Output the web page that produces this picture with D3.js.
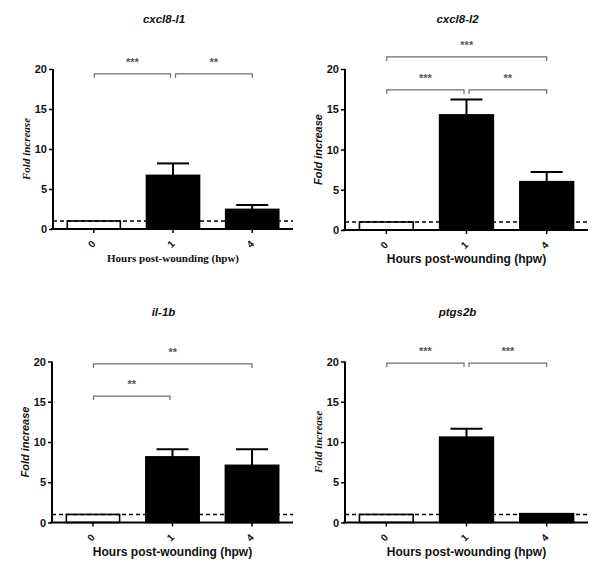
<!DOCTYPE html>
<html>
<head>
<meta charset="utf-8">
<script src="https://cdn.jsdelivr.net/npm/d3@7"></script>
<style>
  html, body { margin: 0; padding: 0; background: #fff; }
  svg { display: block; }
</style>
</head>
<body>
<svg id="chart" width="600" height="580"></svg>
<script>
// ---------- data ----------
const categories = ["0", "1", "4"];
const titles = ["cxcl8-l1", "cxcl8-l2", "il-1b", "ptgs2b"];
const yTicks = [0, 5, 10, 15, 20];
const baseline = 1;

const meanCxcl8l1 = [1, 6.7, 2.45];
const semCxcl8l1  = [0, 1.5, 0.55];
const meanCxcl8l2 = [1, 14.3, 6.0];
const semCxcl8l2  = [0, 1.9, 1.2];
const meanIl1b    = [1, 8.15, 7.1];
const semIl1b     = [0, 0.95, 2.0];
const meanPtgs2b  = [1, 10.6, 1.1];
const semPtgs2b   = [0, 1.05, 0];

// [from index, to index, level (fold), label]
const sigCxcl8l1 = [[0, 1, 19.4, "***"], [1, 2, 19.4, "**"]];
const sigCxcl8l2 = [[0, 2, 21.5, "***"], [0, 1, 17.4, "***"], [1, 2, 17.4, "**"]];
const sigIl1b    = [[0, 2, 19.7, "**"], [0, 1, 15.7, "**"]];
const sigPtgs2b  = [[0, 1, 19.8, "***"], [1, 2, 19.8, "***"]];

const xLabel = "Hours post-wounding (hpw)";
const yLabel = "Fold increase";

// ---------- layout ----------
const SANS = "'Liberation Sans', Arial, sans-serif";
const SERIF = "'Liberation Serif', 'Times New Roman', serif";
const panels = [
  { title: titles[0], mean: meanCxcl8l1, sem: semCxcl8l1, sig: sigCxcl8l1, left: 53,  top: 69,    w: 240, h: 160, yFont: SERIF, xFont: SERIF, xSize: 11 },
  { title: titles[1], mean: meanCxcl8l2, sem: semCxcl8l2, sig: sigCxcl8l2, left: 345, top: 69,    w: 243, h: 161, yFont: SANS,  xFont: SANS,  xSize: 12 },
  { title: titles[2], mean: meanIl1b,    sem: semIl1b,    sig: sigIl1b,    left: 52,  top: 361.5, w: 241, h: 161, yFont: SANS,  xFont: SANS,  xSize: 12 },
  { title: titles[3], mean: meanPtgs2b,  sem: semPtgs2b,  sig: sigPtgs2b,  left: 345, top: 361.5, w: 243, h: 161, yFont: SERIF, xFont: SANS,  xSize: 12 }
];

const svg = d3.select("#chart");

panels.forEach(p => {
  const g = svg.append("g").attr("transform", `translate(${p.left},${p.top})`);
  const x = d3.scaleBand().domain(categories).range([0, p.w]).paddingInner(0.33).paddingOuter(0.18);
  const y = d3.scaleLinear().domain([0, 20]).range([p.h, 0]);
  const cx = i => x(categories[i]) + x.bandwidth() / 2;

  // bars
  g.selectAll("rect.bar").data(p.mean).enter().append("rect")
    .attr("class", "bar")
    .attr("x", (d, i) => x(categories[i]))
    .attr("width", x.bandwidth())
    .attr("y", d => y(d))
    .attr("height", d => y(0) - y(d))
    .attr("fill", (d, i) => i === 0 ? "#fff" : "#000")
    .attr("stroke", "#000")
    .attr("stroke-width", 1.6);

  // error bars
  p.mean.forEach((m, i) => {
    const s = p.sem[i];
    if (!s) return;
    g.append("line").attr("x1", cx(i)).attr("x2", cx(i))
      .attr("y1", y(m)).attr("y2", y(m + s))
      .attr("stroke", "#000").attr("stroke-width", 2);
    g.append("line").attr("x1", cx(i) - 16).attr("x2", cx(i) + 16)
      .attr("y1", y(m + s)).attr("y2", y(m + s))
      .attr("stroke", "#000").attr("stroke-width", 2);
  });

  // dashed baseline
  g.append("line").attr("x1", 0).attr("x2", p.w)
    .attr("y1", y(baseline)).attr("y2", y(baseline))
    .attr("stroke", "#000").attr("stroke-width", 1.5)
    .attr("stroke-dasharray", "4,3");

  // y axis
  const ya = g.append("g").call(d3.axisLeft(y).tickValues(yTicks).tickSize(4).tickPadding(2));
  ya.select(".domain").attr("stroke-width", 2).attr("d", `M0,${y(20)}V${y(0)}`);
  ya.selectAll(".tick line").attr("stroke-width", 1.5);
  ya.selectAll(".tick text").attr("font-family", SANS).attr("font-weight", "bold")
    .attr("font-size", 11).attr("fill", "#111");

  // x axis
  const xa = g.append("g").attr("transform", `translate(0,${p.h})`)
    .call(d3.axisBottom(x).tickSize(4).tickPadding(0));
  xa.select(".domain").attr("stroke-width", 2).attr("d", `M-2,0H${p.w}`);
  xa.selectAll(".tick line").attr("stroke-width", 1.5);
  xa.selectAll(".tick text")
    .attr("font-family", SANS).attr("font-weight", "bold").attr("font-size", 10).attr("fill", "#111")
    .attr("text-anchor", "middle")
    .attr("y", 0).attr("dy", "0.35em")
    .attr("transform", "translate(-2,15) rotate(-45)");

  // significance brackets
  p.sig.forEach(([a, b, lvl, lab]) => {
    const x1 = cx(a) + (a === 1 ? 2.5 : 0.5);
    const x2 = cx(b) - (b === 1 ? 2.5 : 0);
    const yy = y(lvl);
    g.append("path")
      .attr("d", `M${x1},${yy + 4}V${yy}H${x2}V${yy + 4}`)
      .attr("fill", "none").attr("stroke", "#6e6e6e").attr("stroke-width", 1.2);
    g.append("text").attr("x", (x1 + x2) / 2).attr("y", yy - 8)
      .attr("text-anchor", "middle")
      .attr("font-family", SANS).attr("font-weight", "bold").attr("font-size", 11).attr("fill", "#555")
      .text(lab);
  });

  // title
  g.append("text").attr("x", p.w / 2 - 9).attr("y", -46)
    .attr("text-anchor", "middle")
    .attr("font-family", SANS).attr("font-weight", "bold").attr("font-style", "italic")
    .attr("font-size", 11.5).attr("fill", "#111")
    .text(p.title);

  // y label
  g.append("text").attr("transform", `translate(-27,${p.h / 2}) rotate(-90)`)
    .attr("text-anchor", "middle").attr("dy", "0.35em")
    .attr("font-family", p.yFont).attr("font-weight", "bold").attr("font-style", "italic")
    .attr("font-size", 11).attr("fill", "#111")
    .text(yLabel);

  // x label
  g.append("text").attr("x", p.w / 2).attr("y", p.h + 33)
    .attr("text-anchor", "middle")
    .attr("font-family", p.xFont).attr("font-weight", "bold")
    .attr("font-size", p.xSize).attr("fill", "#111")
    .text(xLabel);
});
</script>
</body>
</html>
